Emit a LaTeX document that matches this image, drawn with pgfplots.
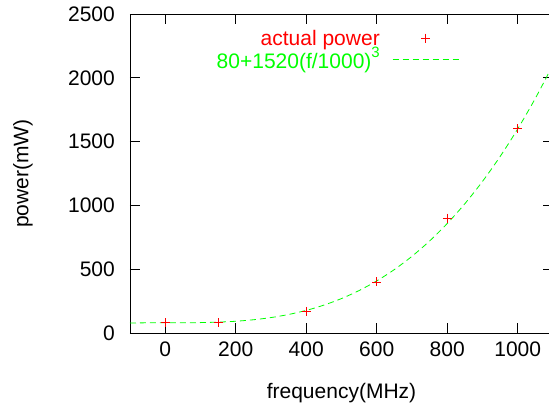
\documentclass[border=0pt]{standalone}
\usepackage{pgfplots}
\pgfplotsset{compat=1.18}
\usepackage{fontspec}
\setmainfont{Liberation Sans}
\definecolor{gpred}{RGB}{255,0,0}
\definecolor{gpgreen}{RGB}{0,255,0}
\pgfplotsset{
  markleg/.style={legend image code/.code={\draw[draw=none] (0pt,0pt) -- (66pt,0pt); \draw[##1] plot coordinates {(33pt,0pt)};}},
  lineleg/.style={legend image code/.code={\draw[##1] (0pt,0pt) -- (66pt,0pt);}},
}
\begin{document}
\fontsize{21}{25}\selectfont
\begin{tikzpicture}
\useasboundingbox (-130pt,-72pt) rectangle (419pt,333pt);
\begin{axis}[
  scale only axis, width=423pt, height=319pt,
  xmin=-100, xmax=1100, ymin=0, ymax=2500,
  xtick={0,200,...,1000}, ytick={0,500,...,2500},
  minor tick num=0,
  tick align=inside, major tick length=10pt,
  axis line style={black, line width=0.8pt},
  every tick/.style={black, line width=0.8pt},
  scaled ticks=false,
  /pgf/number format/assume math mode=true,
  /pgf/number format/1000 sep={},
  tick label style={font=\fontsize{21}{25}\selectfont},
  xticklabel style={inner sep=0pt, yshift=-9pt},
  yticklabel style={inner sep=0pt, xshift=-15pt},
  xlabel={frequency(MHz)},
  ylabel={power(mW)},
  label style={font=\fontsize{21}{25}\selectfont},
  xlabel style={at={(axis description cs:0.5,0)}, anchor=base, yshift=-65pt, inner sep=0pt},
  ylabel style={at={(axis description cs:0,0.5)}, anchor=center, rotate=0, yshift=107pt, inner sep=0pt},
  legend plot pos=right,
  legend cell align=right,
  legend style={draw=none, fill=none, inner sep=0pt, outer sep=0pt,
    at={(axis description cs:0.7778,0.953)}, anchor=north east,
    column sep=13pt, row sep=0pt,
    nodes={inner sep=0pt}},
]
\addplot[gpred, only marks, mark=+, mark size=4.5pt, line width=0.8pt, markleg]
  coordinates {(0,80) (150,80) (400,170) (600,400) (800,900) (1000,1600)};
\addlegendentry{\rule[-4.4pt]{0pt}{19.7pt}}
\addplot[gpgreen, line width=0.8pt, dash pattern=on 6pt off 4pt, smooth, lineleg]
  coordinates {(-100,78.48) (-50,79.81) (0,80) (50,80.19) (100,81.52) (150,85.13)
    (200,92.16) (250,103.75) (300,121.04) (350,145.17) (400,177.28) (450,218.51)
    (500,270) (550,332.89) (600,408.32) (650,497.43) (700,601.36) (750,721.25)
    (800,858.24) (850,1013.47) (900,1188.08) (950,1383.21) (1000,1600)
    (1050,1839.59) (1100,2103.12)};
\addlegendentry{\rule[-4.4pt]{0pt}{26.1pt}}
\coordinate (L1) at (axis description cs:0.591,0.9028);
\coordinate (L2) at (axis description cs:0.591,0.8307);
\end{axis}
\node[text=gpred, anchor=base east, inner sep=0pt, font=\fontsize{21}{25}\selectfont] at (L1) {actual power};
\node[text=gpgreen, anchor=base east, inner sep=0pt, font=\fontsize{21}{25}\selectfont] at (L2) {80+1520(f/1000)\raisebox{11pt}{\fontsize{15}{15}\selectfont 3}};
\end{tikzpicture}
\end{document}
